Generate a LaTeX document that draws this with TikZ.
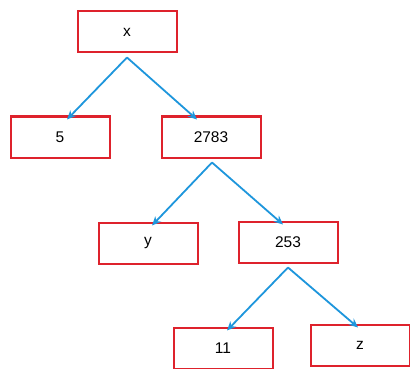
\documentclass[tikz,border=0pt]{standalone}
\usepackage{fontspec}
\setmainfont{Liberation Sans}
\usetikzlibrary{arrows.meta,calc}
\definecolor{boxred}{RGB}{222,34,44}
\definecolor{arrblue}{RGB}{30,150,220}
\begin{document}
\begin{tikzpicture}[x=1pt,y=1pt,
  tbox/.style={draw=boxred,line width=2pt,minimum width=99pt,minimum height=41pt,inner sep=0pt,font=\fontsize{15.5}{18}\selectfont},
  link/.style={draw=arrblue,line width=1.8pt,-{Stealth[length=9pt,width=8pt]}}]
\useasboundingbox (0,0) rectangle (410,-369);
\node[tbox] (x) at (127,-32) {x};
\node[tbox] (n5) at (60,-137) {5};
\node[tbox] (n2783) at (211,-137) {2783};
\node[tbox] (y) at (148,-243) {y};
\node[tbox] (n253) at (288,-242) {253};
\node[tbox] (n11) at (223,-348) {11};
\node[tbox] (z) at (360,-345) {z};
\draw[link] ($(x.south)+(0,-4)$) -- ($(n5.north)+(7,-4)$);
\draw[link] ($(x.south)+(0,-4)$) -- ($(n2783.north)+(-14,-4)$);
\draw[link] ($(n2783.south)+(1,-4)$) -- ($(y.north)+(4,-4)$);
\draw[link] ($(n2783.south)+(1,-4)$) -- ($(n253.north)+(-5,-4)$);
\draw[link] ($(n253.south)+(0,-4)$) -- ($(n11.north)+(4,-4)$);
\draw[link] ($(n253.south)+(0,-4)$) -- ($(z.north)+(-2,-4)$);
\end{tikzpicture}
\end{document}
